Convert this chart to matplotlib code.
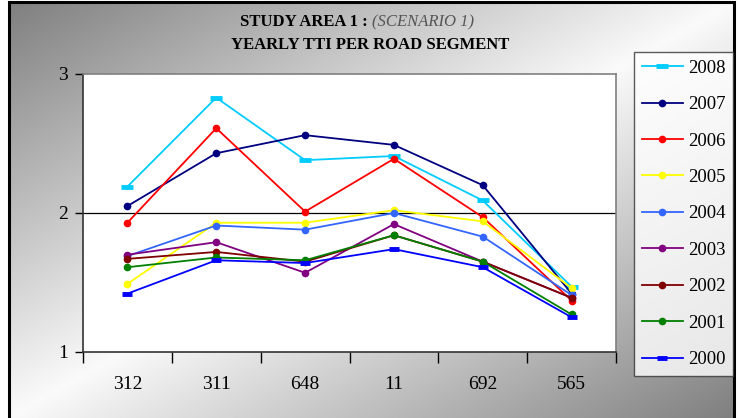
import numpy as np
import matplotlib.pyplot as plt
from matplotlib.patches import Rectangle

plt.rcParams['font.family'] = ['Liberation Serif', 'DejaVu Serif']

segments = ['312', '311', '648', '11', '692', '565']
years = ['2008', '2007', '2006', '2005', '2004', '2003', '2002', '2001', '2000']

tti_2008 = [2.19, 2.83, 2.38, 2.41, 2.09, 1.47]
tti_2007 = [2.05, 2.43, 2.56, 2.49, 2.20, 1.42]
tti_2006 = [1.93, 2.61, 2.01, 2.39, 1.97, 1.37]
tti_2005 = [1.49, 1.93, 1.93, 2.02, 1.94, 1.46]
tti_2004 = [1.69, 1.91, 1.88, 2.00, 1.83, 1.41]
tti_2003 = [1.70, 1.79, 1.57, 1.92, 1.65, 1.39]
tti_2002 = [1.67, 1.72, 1.65, 1.84, 1.65, 1.39]
tti_2001 = [1.61, 1.68, 1.66, 1.84, 1.65, 1.27]
tti_2000 = [1.42, 1.66, 1.64, 1.74, 1.61, 1.25]

series = [tti_2008, tti_2007, tti_2006, tti_2005, tti_2004,
          tti_2003, tti_2002, tti_2001, tti_2000]
colors = ['#00CCFF', '#000080', '#FF0000', '#FFFF00', '#3366FF',
          '#800080', '#800000', '#008000', '#0000FF']

fig = plt.figure(figsize=(7.38, 4.18), dpi=100)

# gradient background inside the black frame
bg = fig.add_axes([0, 0, 1, 1], zorder=-5)
bg.set_xlim(0, 1)
bg.set_ylim(0, 1)
bg.axis('off')
gx, gy = np.meshgrid(np.linspace(0, 1, 300), np.linspace(0, 1, 200))
d = np.abs(gx - gy)  # dark at top-left and bottom-right (origin lower)
shade = 0.98 - 0.48 * d
x0, x1 = 9 / 738, 734 / 738
y1 = 1 - 2 / 418
bg.imshow(shade, cmap='gray', vmin=0, vmax=1, origin='lower',
          extent=[x0, x1, 0, y1], aspect='auto', interpolation='bilinear')
bg.add_patch(Rectangle((x0, -0.01), x1 - x0, y1 + 0.01, fill=False,
                       edgecolor='black', lw=2.2))

ax = fig.add_axes([83 / 738, 1 - 352 / 418, 533 / 738, 278 / 418])
ax.set_facecolor('white')
x = np.arange(len(segments))
for yr, vals, c in zip(years, series, colors):
    if yr in ('2008', '2000'):
        ax.plot(x, vals, color=c, lw=1.3, marker='_',
                markersize=9 if yr == '2008' else 7, mew=3.5, label=yr)
    else:
        ax.plot(x, vals, color=c, lw=1.3, marker='o', markersize=4.5, label=yr)

ax.set_xlim(-0.5, len(segments) - 0.5)
ax.set_ylim(1, 3)
ax.set_yticks([1, 2, 3])
ax.tick_params(axis='y', length=6, width=1, labelsize=14, pad=5)
ax.axhline(2, color='black', lw=0.9, zorder=0)

ax.set_xticks(np.arange(-0.5, len(segments)), labels=[''] * (len(segments) + 1))
ax.set_xticks(x, labels=segments, minor=True)
ax.tick_params(axis='x', which='major', length=8, width=1)
ax.tick_params(axis='x', which='minor', length=0, labelsize=14, pad=17)

for side in ('top', 'right'):
    ax.spines[side].set_color('#808080')
for side in ('left', 'bottom'):
    ax.spines[side].set_color('#333333')
for s in ax.spines.values():
    s.set_linewidth(1.2)

fig.text(0.504, 1 - 22 / 418, 'STUDY AREA 1 : ', ha='right', va='center',
         fontsize=12, fontweight='bold')
fig.text(0.504, 1 - 22 / 418, '(SCENARIO 1)', ha='left', va='center',
         fontsize=12, fontstyle='italic', color='#555555')
fig.text(0.502, 1 - 45 / 418, 'YEARLY TTI PER ROAD SEGMENT', ha='center',
         va='center', fontsize=12, fontweight='bold')

leg = fig.legend(loc='upper left', bbox_to_anchor=(634 / 738, 1 - 52 / 418),
                 frameon=True, fancybox=False, edgecolor='#333333',
                 fontsize=13.5, labelspacing=1.03, handlelength=2.2,
                 handletextpad=0.3, borderpad=0.4, borderaxespad=0)
leg.get_frame().set_linewidth(1.0)

fig.savefig('out.png', dpi=100)
